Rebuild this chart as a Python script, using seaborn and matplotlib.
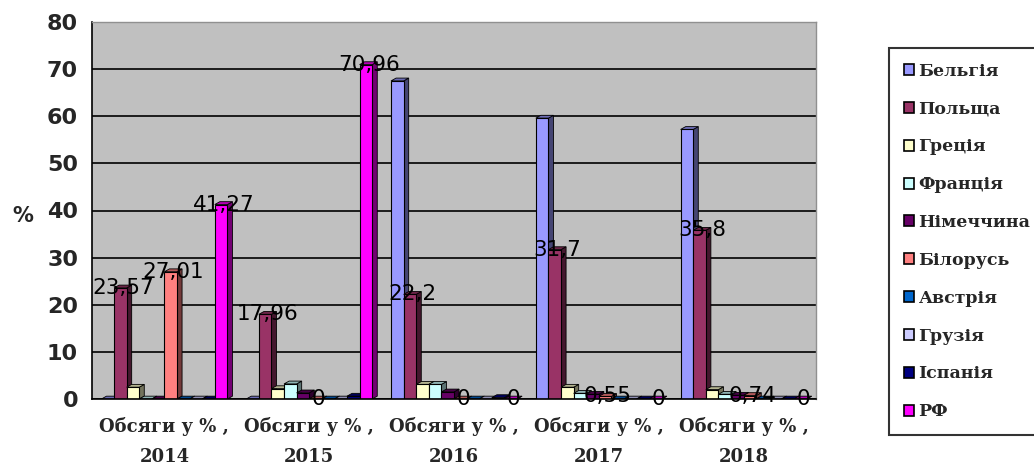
import matplotlib
matplotlib.use("Agg")
import matplotlib.pyplot as plt
import matplotlib.colors as mcolors
from matplotlib.patches import Polygon, Patch
import numpy as np
import pandas as pd
import seaborn as sns

# дані (%)
years = ["2014", "2015", "2016", "2017", "2018"]
countries = ["Бельгія", "Польща", "Греція", "Франція", "Німеччина",
             "Білорусь", "Австрія", "Грузія", "Іспанія", "РФ"]
belgium = [0, 0, 67.5, 59.6, 57.2]
poland = [23.57, 17.96, 22.2, 31.7, 35.8]
greece = [2.5, 2.2, 3.1, 2.5, 2.0]
france = [0, 3.2, 3.1, 1.2, 1.0]
germany = [0, 1.3, 1.5, 1.0, 0.8]
belarus = [27.01, 0, 0, 0.55, 0.74]
austria = [0, 0, 0, 0, 0]
georgia = [0, 0, 0, 0, 0]
spain = [0, 0.6, 0.3, 0, 0]
russia = [41.27, 70.96, 0, 0, 0]

colors = ["#9999FF", "#993366", "#FFFFCC", "#CCFFFF", "#660066",
          "#FF8080", "#0066CC", "#CCCCFF", "#000080", "#FF00FF"]
labelled = ["Польща", "Білорусь", "РФ"]

series = [belgium, poland, greece, france, germany,
          belarus, austria, georgia, spain, russia]
cats = ["Обсяги у % ,\n" + y for y in years]
df = pd.DataFrame([(cats[i], c, s[i]) for c, s in zip(countries, series)
                   for i in range(len(years))],
                  columns=["cat", "country", "value"])

sns.set_style("white")
plt.rcParams["font.family"] = ["DejaVu Sans"]
serif = ["DejaVu Serif"]

fig = plt.figure(figsize=(10.34, 4.68), dpi=100)
ax = fig.add_axes([92 / 1034, 1 - 399 / 468, (816 - 92) / 1034, (399 - 22) / 468])
ax.set_facecolor("#C0C0C0")

sns.barplot(data=df, x="cat", y="value", hue="country", hue_order=countries,
            order=cats, palette=colors, width=0.87, saturation=1,
            edgecolor="black", linewidth=0.8, legend=False, ax=ax)

# псевдо-3D: бічна та верхня грані
dx, dy = 0.035, 0.6
for k, cont in enumerate(ax.containers):
    col = np.array(mcolors.to_rgb(colors[k]))
    for bar in cont:
        x0 = bar.get_x()
        x1 = x0 + bar.get_width()
        h = bar.get_height()
        bar.set_zorder(2 + k * 0.01 + 0.005)
        side = Polygon([(x1, 0), (x1 + dx, dy), (x1 + dx, h + dy), (x1, h)],
                       closed=True, facecolor=col * 0.45, edgecolor="black",
                       linewidth=0.6, zorder=2 + k * 0.01)
        top = Polygon([(x0, h), (x0 + dx, h + dy), (x1 + dx, h + dy), (x1, h)],
                      closed=True, facecolor=col * 0.7, edgecolor="black",
                      linewidth=0.6, zorder=2 + k * 0.01)
        ax.add_patch(side)
        ax.add_patch(top)
    if countries[k] in labelled:
        for bar in cont:
            h = bar.get_height()
            txt = f"{h:g}".replace(".", ",")
            ax.text(bar.get_x() + bar.get_width() / 2 + 0.02, h, txt,
                    ha="center", va="center", fontsize=15.5, color="black",
                    zorder=5)

ax.set_ylim(0, 80)
ax.set_xlim(-0.5, 4.5)
ax.set_yticks(range(0, 81, 10))
ax.yaxis.grid(True, color="black", linewidth=1.2)
ax.set_axisbelow(True)
ax.tick_params(axis="y", length=6, width=1, direction="out", pad=4,
               labelsize=16)
for t in ax.get_yticklabels():
    t.set_fontweight("bold")
ax.set_xticks(range(5))
ax.set_xticklabels(cats, fontsize=13, fontweight="bold",
                   family=serif, linespacing=1.85)
ax.set_xticks(np.arange(-0.5, 5, 1), minor=True)
ax.tick_params(axis="x", which="major", length=0, pad=13)
ax.tick_params(axis="x", which="minor", length=5, width=1, direction="out")
ax.set_xlabel("")
ax.set_ylabel("%", rotation=0, fontsize=15, fontweight="bold")
ax.yaxis.set_label_coords(-0.095, 0.46)
for s in ["left", "bottom"]:
    ax.spines[s].set_color("black")
    ax.spines[s].set_linewidth(1.2)
for s in ["top", "right"]:
    ax.spines[s].set_color("#909090")
    ax.spines[s].set_linewidth(1.0)

handles = [Patch(facecolor=c, edgecolor="black", linewidth=1.2) for c in colors]
leg = fig.legend(handles, countries, loc="upper left",
                 bbox_to_anchor=(889 / 1034, 1 - 48 / 468), borderaxespad=0,
                 frameon=True, fancybox=False, shadow=False, handlelength=0.6,
                 handleheight=0.6, handletextpad=0.25, labelspacing=1.2,
                 borderpad=0.85,
                 prop={"family": serif, "weight": "bold", "size": 12.5})
leg.get_frame().set_edgecolor("black")
leg.get_frame().set_linewidth(1.5)

fig.savefig("out.png", dpi=100)
